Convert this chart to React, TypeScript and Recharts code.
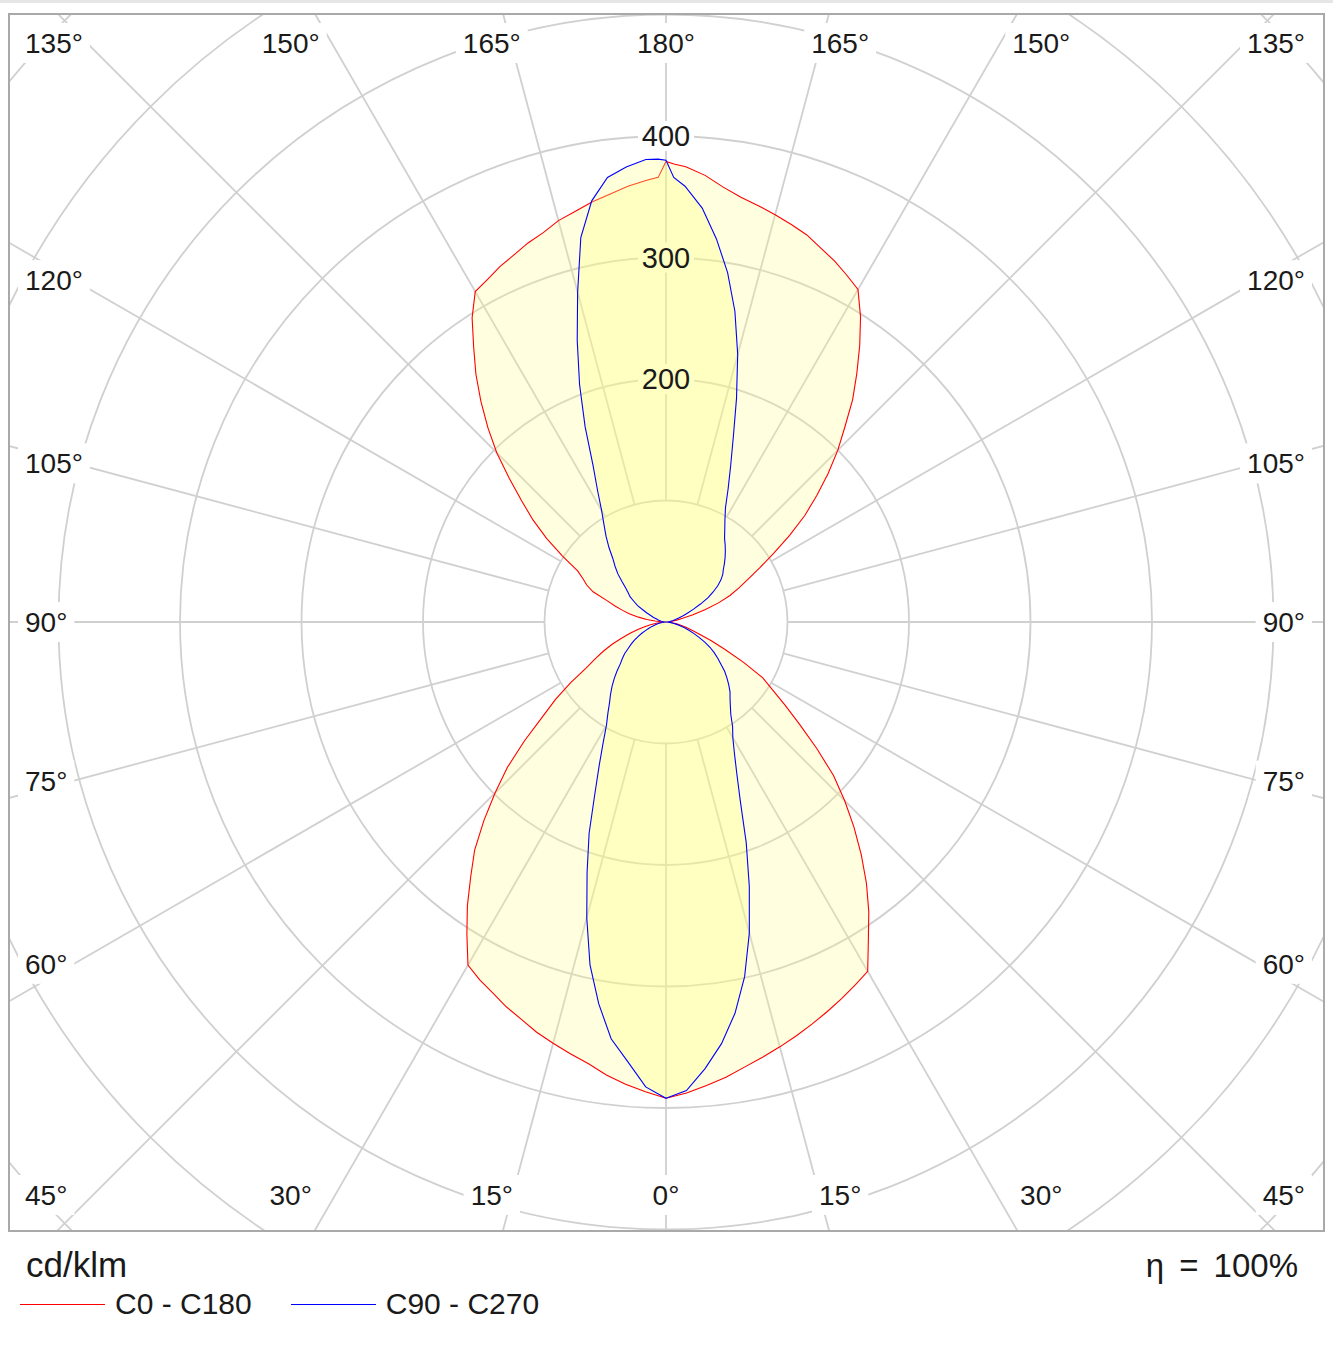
import React from 'react'
import { RadarChart, PolarGrid, PolarAngleAxis, PolarRadiusAxis, Radar, Legend } from 'recharts'

// ── Data ──────────────────────────────────────────────────────────────────────
// gamma angle around the full circle: 0 = nadir, 90 = right, 180 = zenith, 270 = left
const ANGLES = [
  0, 2.5, 5, 7.5, 10, 12.5, 15, 17.5, 20, 22.5, 25, 27.5, 30, 32.5, 35, 37.5, 40, 42.5,
  45, 47.5, 50, 52.5, 55, 57.5, 60, 62.5, 65, 67.5, 70, 72.5, 75, 77.5, 80, 82.5, 85, 87.5, 90,
  92.5, 95, 97.5, 100, 102.5, 105, 107.5, 110, 112.5, 115, 117.5, 120, 122.5, 125, 127.5, 130,
  132.5, 135, 137.5, 140, 142.5, 145, 147.5, 150, 152.5, 155, 157.5, 160, 162.5, 165, 167.5,
  170, 172.5, 175, 177.5,
  179, 180, 181,
  182.5, 185, 187.5, 190, 192.5, 195, 197.5, 200, 202.5, 205, 207.5, 210, 212.5, 215, 217.5,
  220, 222.5, 225, 227.5, 230, 232.5, 235, 237.5, 240, 242.5, 245, 247.5, 250, 252.5, 255,
  257.5, 260, 262.5, 265, 267.5, 270,
  272.5, 275, 277.5, 280, 282.5, 285, 287.5, 290, 292.5, 295, 297.5, 300, 302.5, 305, 307.5,
  310, 312.5, 315, 317.5, 320, 322.5, 325, 327.5, 330, 332.5, 335, 337.5, 340, 342.5, 345,
  347.5, 350, 352.5, 355, 357.5,
]

// cd/klm
const C0_C180 = [
  392, 388, 383, 378, 372, 367, 362, 357, 352, 347, 342, 337, 332, 310, 291, 271, 250, 229,
  208, 187, 162, 139, 120, 104, 92, 72, 54, 40, 29, 22, 17, 13, 9, 6, 3, 1, 0,
  1, 3, 5, 9, 14, 23, 34, 46, 57, 66, 76, 89, 105, 124, 144, 162,
  181, 200, 218, 239, 258, 278, 298, 316, 322, 328, 333, 339, 343, 347,
  351, 355, 361, 369, 375,
  377, 379, 366,
  364, 360, 355, 351, 346, 342, 336, 332, 327, 323, 318, 314, 297, 276, 257,
  237, 217, 197, 175, 155, 138, 120, 101, 84, 77, 72, 65, 52, 44, 37,
  31, 23, 16, 9, 4, 0,
  2, 5, 8, 13, 18, 24, 31, 39, 48, 57, 66, 76, 93, 111, 128,
  152, 177, 199, 222, 245, 264, 285, 305, 326, 332, 337, 343, 348, 354, 359,
  364, 369, 376, 382, 387,
]

const C90_C270 = [
  392, 386, 369, 350, 327, 299, 265, 228, 193, 160, 138, 122, 110, 102, 93, 87, 82, 78,
  73, 68, 63, 57, 52, 47, 42, 36, 30, 25, 20, 16, 12, 9, 6, 4, 2, 1, 0,
  1, 2, 3, 4, 6, 8, 11, 15, 19, 25, 32, 40, 46, 52, 57, 61,
  64, 68, 72, 76, 80, 84, 90, 97, 106, 121, 139, 162, 193, 228,
  262, 292, 318, 342, 359,
  366, 380, 381,
  381, 376, 369, 352, 324, 281, 243, 208, 174, 142, 122, 106, 95, 86, 77,
  68, 62, 56, 49, 43, 39, 36, 31, 27, 21, 17, 13, 11, 8, 7,
  5, 4, 3, 2, 1, 0,
  1, 2, 3, 5, 7, 9, 12, 15, 18, 22, 26, 30, 34, 38, 43,
  47, 51, 57, 63, 69, 75, 81, 89, 98, 112, 130, 153, 185, 216, 252,
  289, 319, 346, 363, 383,
]

const ANGLE_TICKS = [0, 15, 30, 45, 60, 75, 90, 105, 120, 135, 150, 165, 180, 195, 210, 225, 240, 255, 270, 285, 300, 315, 330, 345]
const RADIUS_TICKS = [100, 200, 300, 400, 500, 600, 700, 800]
const RING_LABELS = [200, 300, 400]
const SERIES_NAMES = ['C0 - C180', 'C90 - C270']
const UNIT = 'cd/klm'
const EFFICIENCY = 'η = 100%'

// ── Layout ────────────────────────────────────────────────────────────────────

const FONT = '"Liberation Sans", Arial, sans-serif'
const W = 1313
const H = 1215
const CX = 656
const CY = 607
const GRID = '#d0d0d0'

// angle labels sit along the inside of the frame, with a white patch behind them
function AngleTick(props: any) {
  const { payload } = props
  const value: number = payload.value
  const deg: number = payload.coordinate ?? value - 90
  const a = (deg * Math.PI) / 180
  const dx = Math.cos(a)
  const dy = -Math.sin(a)
  const label = `${value <= 180 ? value : 360 - value}°`
  const fs = 28
  const w = (label.length - 1) * 0.556 * fs + 0.4 * fs
  let x: number
  let y: number
  let anchor: 'start' | 'middle' | 'end' = 'middle'
  if (Math.abs(dy) >= Math.abs(dx) - 1e-6) {
    y = dy < 0 ? 28 : 1180
    x = CX + (650 * dx) / Math.abs(dy)
    if (x < 47) { x = 15; anchor = 'start' }
    else if (x > 1265) { x = 1295; anchor = 'end' }
  } else {
    y = CY + (592 * dy) / Math.abs(dx)
    x = dx < 0 ? 15 : 1295
    anchor = dx < 0 ? 'start' : 'end'
  }
  const left = anchor === 'start' ? x : anchor === 'end' ? x - w : x - w / 2
  return (
    <g>
      <rect x={left - 7} y={y - 20} width={w + 14} height={40} fill="#fff" />
      <text x={x} y={y + 10} textAnchor={anchor} fontSize={fs} fontFamily={FONT} fill="#1a1a1a">
        {label}
      </text>
    </g>
  )
}

function RingLabelBg(props: any) {
  const { x, y, payload } = props
  if (!RING_LABELS.includes(payload.value)) return <g />
  return <rect x={x - 28} y={y - 15} width={56} height={30} fill="#fff" />
}

function RingLabel(props: any) {
  const { x, y, payload } = props
  if (!RING_LABELS.includes(payload.value)) return <g />
  return (
    <text x={x} y={y + 10} textAnchor="middle" fontSize={29} fontFamily={FONT} fill="#1a1a1a">
      {payload.value}
    </text>
  )
}

const LINE_COLORS = ['#ff0000', '#0000ff']

function LegendContent({ payload }: any) {
  return (
    <div style={{ position: 'relative', width: 1333, height: 100, fontFamily: FONT, color: '#1a1a1a' }}>
      <div style={{ position: 'absolute', left: 26, top: 2, fontSize: 35, lineHeight: 1 }}>{UNIT}</div>
      <div style={{ position: 'absolute', right: 35, top: 4, fontSize: 33, lineHeight: 1, wordSpacing: 6 }}>
        {EFFICIENCY}
      </div>
      <div style={{ position: 'absolute', left: 20, top: 44, display: 'flex', alignItems: 'center' }}>
        {(payload || []).map((p: any, i: number) => (
          <div key={i} style={{ display: 'flex', alignItems: 'center', marginRight: 39 }}>
            <div style={{ width: 85, height: 1, background: LINE_COLORS[i] ?? p.color, marginRight: 10 }} />
            <span style={{ fontSize: 30, lineHeight: 1 }}>{p.value}</span>
          </div>
        ))}
      </div>
    </div>
  )
}

// ── Component ─────────────────────────────────────────────────────────────────

export default function App() {
  const data = ANGLES.map((angle, i) => ({ angle, c0: C0_C180[i], c90: C90_C270[i] }))

  return (
    <div style={{ position: 'absolute', left: 0, top: 0, width: 1333, height: 1348, background: '#fff', fontFamily: FONT }}>
      <div style={{ position: 'absolute', left: 0, top: 0, width: 1333, height: 3, background: '#e6e6e6' }} />
      <div
        style={{
          position: 'absolute', left: 8, top: 13, width: 1317, height: 1219,
          border: '2px solid #a9a9a9', boxSizing: 'border-box',
        }}
      >
        <RadarChart
          width={W}
          height={H}
          data={data}
          cx={CX}
          cy={CY}
          innerRadius={121.5}
          outerRadius={972}
          startAngle={-90}
          endAngle={270}
          margin={{ top: 0, right: 0, bottom: 0, left: 0 }}
        >
          <PolarGrid gridType="circle" stroke={GRID} strokeWidth={1.8} />
          <PolarAngleAxis
            dataKey="angle"
            type="number"
            domain={[0, 360]}
            ticks={ANGLE_TICKS}
            tick={AngleTick}
            axisLine={false}
            tickLine={false}
          />
          {/* white patches behind the ring values, under the fills */}
          <PolarRadiusAxis
            radiusAxisId={0}
            angle={90}
            type="number"
            domain={[100, 800]}
            ticks={RADIUS_TICKS}
            tickCount={8}
            allowDataOverflow
            axisLine={false}
            tick={RingLabelBg}
            zIndex={-50}
          />
          <Radar
            name={SERIES_NAMES[0]}
            dataKey="c0"
            stroke="#ff0000"
            strokeWidth={1.1}
            fill="#ffff80"
            fillOpacity={0.25}
            dot={false}
            legendType="line"
            isAnimationActive={false}
          />
          <Radar
            name={SERIES_NAMES[1]}
            dataKey="c90"
            stroke="#0000ff"
            strokeWidth={1.1}
            fill="#ffff80"
            fillOpacity={0.3}
            dot={false}
            legendType="line"
            isAnimationActive={false}
          />
          <PolarRadiusAxis
            radiusAxisId="labels"
            angle={90}
            type="number"
            domain={[100, 800]}
            ticks={RADIUS_TICKS}
            tickCount={8}
            allowDataOverflow
            axisLine={false}
            tick={RingLabel}
          />
          <Legend
            verticalAlign="bottom"
            align="left"
            content={LegendContent}
            wrapperStyle={{ left: -10, top: 1230, bottom: 'auto', width: 1333, height: 100 }}
          />
        </RadarChart>
      </div>
    </div>
  )
}
